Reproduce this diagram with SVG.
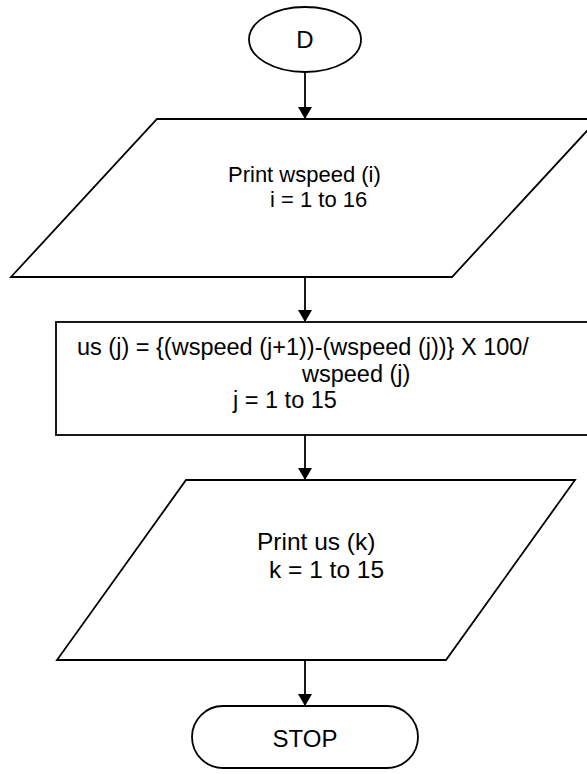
<svg xmlns="http://www.w3.org/2000/svg" width="587" height="774" viewBox="0 0 587 774">
  <style>
    .shape { fill: #ffffff; stroke: #000000; stroke-width: 1.8; }
    .flow { stroke: #000000; stroke-width: 1.8; fill: none; }
    .label { font-family: "Liberation Sans", Arial, sans-serif; font-size: 22px; fill: #000000; }
    .mid { font-size: 23.5px; }
    .big { font-size: 24.5px; }
    .term { font-size: 24px; }
  </style>
  <defs>
    <marker id="arrow" viewBox="0 0 12 14" refX="12" refY="7" markerWidth="12" markerHeight="14" markerUnits="userSpaceOnUse" orient="auto">
      <path d="M0,0 L12,7 L0,14 Z" fill="#000000"/>
    </marker>
  </defs>
  <rect width="587" height="774" fill="#ffffff"/>

  <!-- connectors -->
  <g id="connectors">
    <line class="flow" x1="305" y1="72" x2="305" y2="119" marker-end="url(#arrow)"/>
    <line class="flow" x1="305" y1="277" x2="305" y2="322" marker-end="url(#arrow)"/>
    <line class="flow" x1="305" y1="435" x2="305" y2="480" marker-end="url(#arrow)"/>
    <line class="flow" x1="305" y1="660" x2="305" y2="706" marker-end="url(#arrow)"/>
  </g>

  <!-- connector node D -->
  <g id="node-d">
    <ellipse class="shape" cx="305" cy="39.5" rx="56" ry="32.5"/>
    <text class="label term" x="305" y="48" text-anchor="middle">D</text>
  </g>

  <!-- input/output: print wind speeds -->
  <g id="node-print-wspeed">
    <polygon class="shape" points="157,119 598,119 452,277 11,277"/>
    <text class="label" x="228" y="182">Print wspeed (i)</text>
    <text class="label" x="270" y="207">i = 1 to 16</text>
  </g>

  <!-- process: percentage change -->
  <g id="node-compute-us">
    <rect class="shape" x="56" y="322" width="540" height="113"/>
    <text class="label mid" x="77" y="355">us (j) = {(wspeed (j+1))-(wspeed (j))} X 100/</text>
    <text class="label mid" x="302" y="382">wspeed (j)</text>
    <text class="label mid" x="233" y="408">j = 1 to 15</text>
  </g>

  <!-- input/output: print us -->
  <g id="node-print-us">
    <polygon class="shape" points="186,480 575,480 446,660 57,660"/>
    <text class="label big" x="257" y="550">Print us (k)</text>
    <text class="label big" x="269" y="578">k = 1 to 15</text>
  </g>

  <!-- terminator -->
  <g id="node-stop">
    <rect class="shape" x="192" y="706" width="226" height="62" rx="31" ry="31"/>
    <text class="label term" x="305" y="747" text-anchor="middle">STOP</text>
  </g>
</svg>
